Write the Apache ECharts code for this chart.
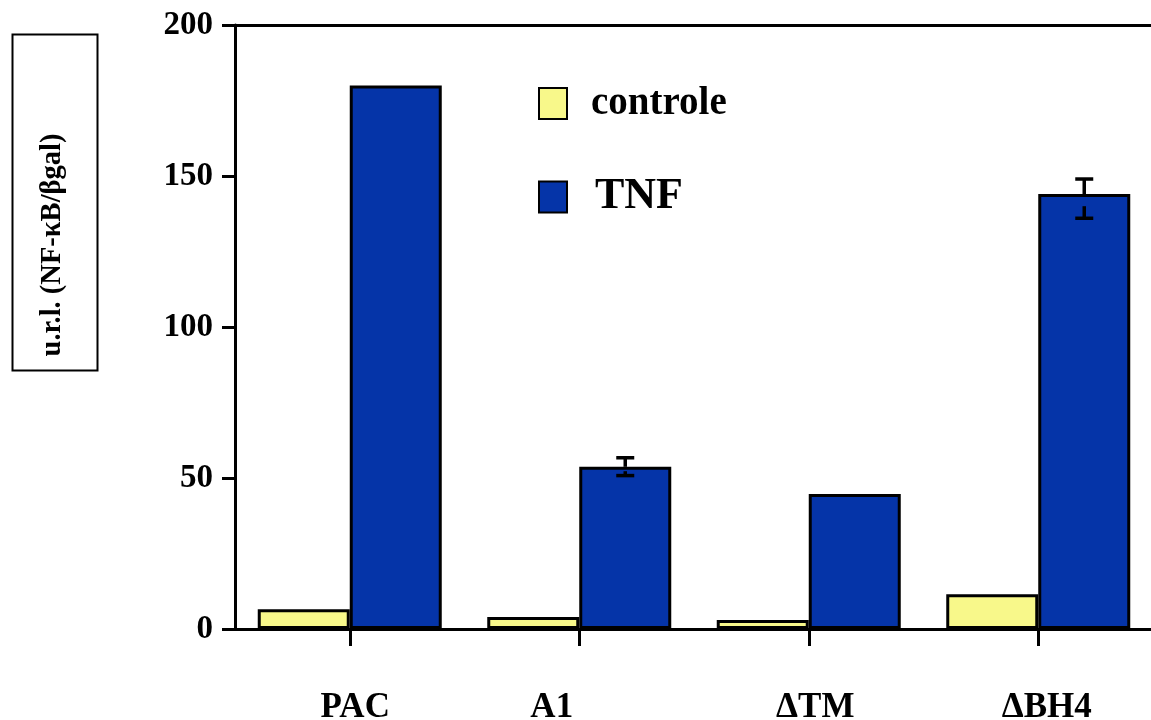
<!DOCTYPE html>
<html>
<head>
<meta charset="utf-8">
<script src="https://cdn.jsdelivr.net/npm/echarts@6/dist/echarts.min.js"></script>
<style>
  html, body { margin: 0; padding: 0; background: #ffffff; }
  #chart { width: 1151px; height: 720px; }
</style>
</head>
<body>
<div id="chart"></div>
<script>
// NF-κB reporter activity per construct, without (controle) and with TNF
var categories = ['PAC', 'A1', '\u0394TM', '\u0394BH4'];
var controleValues = [6.5, 4, 3, 11.5];
var tnfValues = [180, 53.7, 44.7, 144];
// error bar ends for TNF (null = no error bar drawn)
var tnfErrLow = [null, 50.8, null, 136];
var tnfErrHigh = [null, 56.7, null, 149];
var yTicks = [0, 50, 100, 150, 200];

var serif = "'Liberation Serif', 'Times New Roman', serif";
var BAR_W = 92;
var YELLOW = '#f8f88a';
var BLUE = '#0534a8';

// horizontal nudges of the category labels
var labelPad = [[0, 0, 0, 11], [0, 55, 0, 0], [0, 0, 0, 13], [0, 0, 0, 17]];

var errData = [];
for (var i = 0; i < categories.length; i++) {
  if (tnfErrLow[i] != null) errData.push([i, tnfErrLow[i], tnfErrHigh[i], tnfValues[i]]);
}

var chart = echarts.init(document.getElementById('chart'), null, { renderer: 'canvas' });

chart.setOption({
  animation: false,
  backgroundColor: '#ffffff',
  grid: { left: 235, top: 25, width: 918, height: 604, containLabel: false, outerBoundsMode: 'none' },
  legend: {
    left: 533, top: 79, orient: 'vertical', itemGap: 52,
    itemWidth: 28, itemHeight: 31, icon: 'rect',
    textStyle: { fontFamily: serif, fontWeight: 'bold', color: '#000', fontSize: 39 },
    data: [
      { name: 'controle', textStyle: { fontSize: 39, padding: [0, 0, 0, 19] } },
      { name: 'TNF', textStyle: { fontSize: 44, padding: [0, 0, 0, 23] } }
    ]
  },
  xAxis: [{
    type: 'category',
    data: categories.map(function (c, k) {
      return { value: c, textStyle: { padding: labelPad[k] } };
    }),
    boundaryGap: true,
    axisLine: { show: true, lineStyle: { color: '#000', width: 3 } },
    axisTick: { show: true, alignWithLabel: true, length: 17, lineStyle: { color: '#000', width: 3 } },
    axisLabel: { margin: 61, fontFamily: serif, fontWeight: 'bold', fontSize: 35, color: '#000' },
    splitLine: { show: false }
  }, {
    type: 'category',
    position: 'top',
    data: categories,
    axisLine: { show: true, lineStyle: { color: '#000', width: 3 } },
    axisTick: { show: false },
    axisLabel: { show: false }
  }],
  yAxis: {
    type: 'value', min: yTicks[0], max: yTicks[yTicks.length - 1], interval: 50,
    axisLine: { show: true, lineStyle: { color: '#000', width: 3 } },
    axisTick: { show: true, length: 13, lineStyle: { color: '#000', width: 3 } },
    axisLabel: { margin: 22, fontFamily: serif, fontWeight: 'bold', fontSize: 33, color: '#000' },
    splitLine: { show: false }
  },
  graphic: [{
    type: 'rect', left: 10, top: 32, z: 10,
    shape: { width: 85, height: 336 },
    style: { fill: 'none', stroke: '#000', lineWidth: 2 }
  }, {
    type: 'text', z: 10,
    x: 53, y: 245, rotation: Math.PI / 2,
    style: {
      text: 'u.r.l. (NF-\u03baB/\u03b2gal)',
      fontFamily: serif, fontWeight: 'bold', fontSize: 28.5, fill: '#000',
      align: 'center', verticalAlign: 'middle'
    }
  }],
  series: [{
    name: 'controle', type: 'bar', data: controleValues,
    barWidth: BAR_W, barGap: '0%',
    itemStyle: { color: YELLOW, borderColor: '#000', borderWidth: 3 }
  }, {
    name: 'TNF', type: 'bar', data: tnfValues,
    barWidth: BAR_W, barGap: '0%',
    itemStyle: { color: BLUE, borderColor: '#000', borderWidth: 3 }
  }, {
    name: 'err', type: 'custom', z: 5,
    data: errData,
    renderItem: function (params, api) {
      var idx = api.value(0);
      var pLo = api.coord([idx, api.value(1)]);
      var pHi = api.coord([idx, api.value(2)]);
      var pMean = api.coord([idx, api.value(3)]);
      var cx = pLo[0] + BAR_W / 2;
      var hw = 9;
      var st = { stroke: '#000', lineWidth: 3.5 };
      var lowStem = (pLo[1] - pMean[1]) / 2;
      return {
        type: 'group',
        children: [
          { type: 'line', shape: { x1: cx - hw, y1: pHi[1], x2: cx + hw, y2: pHi[1] }, style: st },
          { type: 'line', shape: { x1: cx, y1: pHi[1], x2: cx, y2: pMean[1] }, style: st },
          { type: 'line', shape: { x1: cx - hw, y1: pLo[1], x2: cx + hw, y2: pLo[1] }, style: st },
          { type: 'line', shape: { x1: cx, y1: pLo[1], x2: cx, y2: pLo[1] - lowStem }, style: st }
        ]
      };
    }
  }]
});
</script>
</body>
</html>
